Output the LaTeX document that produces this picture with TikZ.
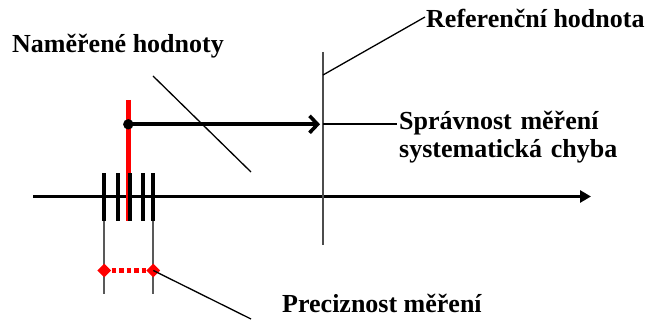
\documentclass[tikz,border=0pt]{standalone}
\usepackage{fontspec}
\setmainfont{Liberation Serif}
\usetikzlibrary{arrows.meta,shapes.geometric}
\begin{document}
\begin{tikzpicture}[x=1pt,y=-1pt,
  lbl/.style={font=\fontsize{26}{29}\selectfont\bfseries, inner sep=0pt, anchor=base west, align=left},
  leader/.style={line width=1.3pt, black},
  tick/.style={line width=4.3pt, black},
  guide/.style={line width=1.8pt, black!65},
  diam/.style={diamond, fill=red, minimum size=14pt, inner sep=0pt}]
\useasboundingbox (0,0) rectangle (653,328);

% key points
\coordinate (axL) at (33,196.5);
\coordinate (axR) at (591,196.5);
\coordinate (refT) at (323,52);
\coordinate (refB) at (323,245);
\coordinate (refA) at (323,75);
\coordinate (refM) at (323,124);
\coordinate (refLbl) at (425,17);
\coordinate (corLbl) at (397,124);
\coordinate (namA) at (153,76);
\coordinate (namB) at (251,172);
\coordinate (preB) at (251,319);

% main axis
\draw[line width=3.2pt, -{Triangle[length=11pt,width=12pt]}] (axL) -- (axR);

% reference value
\draw[line width=2.4pt, black!70] (refT) -- (refB);
\draw[leader] (refA) -- (refLbl);
\draw[leader] (refM) -- (corLbl);

% mean value (red) behind the ticks
\draw[red, line width=4.4pt] (128.3,100) -- (128.3,221.5);

% measured values
\foreach \x/\n in {104.3/t1,118.3/t2,130.2/t3,143.3/t4,153.3/t5}
  \draw[tick] (\x,173.3) -- (\x,221.5) coordinate (\n);

% guide lines for the spread
\draw[guide] (104.3,221.5) -- (104.3,294);
\draw[guide] (153.3,221.5) -- (153.3,294);

% spread markers
\node[diam] (dL) at (104.3,270.5) {};
\node[diam] (dR) at (153.3,270.5) {};
\draw[red, line width=5pt, dash pattern=on 4.5pt off 3pt] (dL) -- (dR);
\draw[leader] (dR.center) -- (preB);

% bias arrow
\fill (128.3,124.3) circle (5.2pt) coordinate (dot);
\draw[line width=4pt, -{Straight Barb[length=8pt,width=17pt,line width=3.6pt]}] (dot) -- (320,124.3);

% leader to measured values
\draw[leader] (namA) -- (namB);

% labels
\node[lbl] (nam) at (12,53) {Naměřené hodnoty};
\node[lbl] (ref) at (426,28) {Referenční hodnota};
\node[lbl, text width=260pt] (cor) at (399,130) {Správnost měření\\[-1pt]systematická chyba};
\node[lbl] (pre) at (282,313) {Preciznost měření};
\end{tikzpicture}
\end{document}
